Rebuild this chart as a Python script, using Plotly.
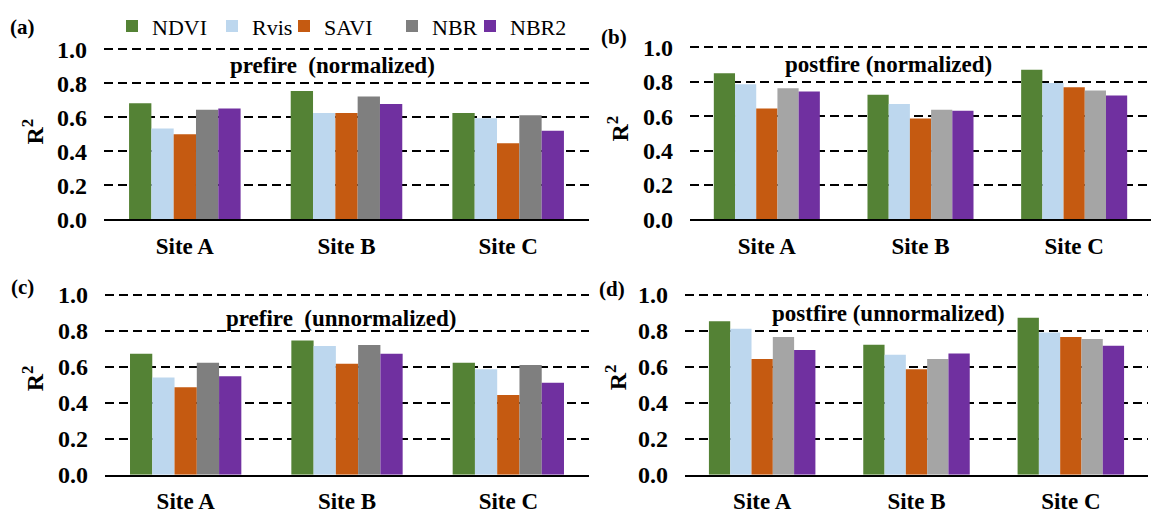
import plotly.graph_objects as go

# Sites and spectral indices
sites = ["Site A", "Site B", "Site C"]
indices = ["NDVI", "Rvis", "SAVI", "NBR", "NBR2"]

# R² per index and site, one dict per panel
prefire_norm = {
    "NDVI": [0.683, 0.755, 0.625],
    "Rvis": [0.534, 0.625, 0.594],
    "SAVI": [0.500, 0.625, 0.448],
    "NBR":  [0.644, 0.723, 0.612],
    "NBR2": [0.652, 0.678, 0.521],
}
postfire_norm = {
    "NDVI": [0.849, 0.725, 0.869],
    "Rvis": [0.786, 0.670, 0.792],
    "SAVI": [0.644, 0.587, 0.768],
    "NBR":  [0.762, 0.637, 0.749],
    "NBR2": [0.744, 0.631, 0.720],
}
prefire_unnorm = {
    "NDVI": [0.673, 0.747, 0.623],
    "Rvis": [0.542, 0.717, 0.588],
    "SAVI": [0.487, 0.618, 0.444],
    "NBR":  [0.623, 0.722, 0.611],
    "NBR2": [0.549, 0.673, 0.512],
}
postfire_unnorm = {
    "NDVI": [0.854, 0.723, 0.874],
    "Rvis": [0.812, 0.668, 0.792],
    "SAVI": [0.645, 0.588, 0.767],
    "NBR":  [0.767, 0.645, 0.755],
    "NBR2": [0.694, 0.675, 0.718],
}

panel_titles = ["prefire  (normalized)", "postfire (normalized)",
                "prefire  (unnormalized)", "postfire (unnormalized)"]
panel_tags = ["(a)", "(b)", "(c)", "(d)"]
y_ticks = [0.0, 0.2, 0.4, 0.6, 0.8, 1.0]

colors_pre = {"NDVI": "#548235", "Rvis": "#BDD7EE", "SAVI": "#C55A11",
              "NBR": "#7F7F7F", "NBR2": "#7030A0"}
colors_post = dict(colors_pre, NBR="#A5A5A5")

W, H = 1152, 529
SERIF = "Liberation Serif, Times New Roman, serif"
Y_TOP = 1.012  # a little headroom so the 1.0 gridline is drawn


def px_x(p):
    return p / W


def px_y(p):
    return 1 - p / H


# plot-area pixel boxes: (left, right, y of 1.0, y of 0.0)
boxes = [
    (104, 589, 41, 219),
    (690, 1151, 39, 219),
    (105, 589, 298, 486),
    (685, 1148, 298, 486),
]

# one single-entry legend per index, laid out along the top row
legend_ids = ["legend", "legend2", "legend3", "legend4", "legend5"]
legend_left = [112, 212, 284, 392, 470]

panels = [prefire_norm, postfire_norm, prefire_unnorm, postfire_unnorm]
palettes = [colors_pre, colors_post, colors_pre, colors_post]

fig = go.Figure()
for i, (data, pal) in enumerate(zip(panels, palettes)):
    xa = "x" if i == 0 else f"x{i + 1}"
    ya = "y" if i == 0 else f"y{i + 1}"
    for k, name in enumerate(indices):
        fig.add_trace(go.Bar(
            x=sites, y=data[name], name=name,
            marker=dict(color=pal[name], line=dict(width=0)),
            xaxis=xa, yaxis=ya,
            showlegend=(i == 0), legendgroup=name,
            legend=legend_ids[k],
        ))

annotations = []
for i, (left, right, top, base) in enumerate(boxes):
    suffix = "" if i == 0 else str(i + 1)
    # extend the top of the domain so that 1.0 stays at the given pixel row
    top_px = top - (Y_TOP - 1.0) * (base - top)
    fig.layout["xaxis" + suffix] = dict(
        domain=[px_x(left), px_x(right)],
        anchor="y" + suffix,
        type="category",
        showline=True, linecolor="black", linewidth=2,
        ticks="", showgrid=False, zeroline=False,
        tickfont=dict(family=SERIF, size=23, color="black", weight="bold"),
        ticklabelstandoff=5,
        fixedrange=True,
    )
    fig.layout["yaxis" + suffix] = dict(
        domain=[px_y(base), px_y(top_px)],
        anchor="x" + suffix,
        range=[0, Y_TOP],
        tickvals=y_ticks, tickformat=".1f",
        showgrid=True, gridcolor="black", gridwidth=2, griddash="9px,5px",
        zeroline=False, showline=False, ticks="",
        tickfont=dict(family=SERIF, size=24, color="black", weight="bold"),
        ticklabelstandoff=16,
        fixedrange=True,
    )

# subplot titles, panel tags and y-axis titles
title_pos = [(332, 58), (888, 57), (341, 323), (888, 317)]
tag_pos = [(22, 18), (614, 28), (22, 290), (612, 292)]
r2_pos = [(33, 127), (618, 124), (33, 385), (616, 384)]
for i in range(4):
    tx, ty = title_pos[i]
    annotations.append(dict(
        x=px_x(tx), y=px_y(ty), xref="paper", yref="paper",
        text=panel_titles[i], showarrow=False,
        font=dict(family=SERIF, size=23, color="black", weight="bold"),
        xanchor="center", yanchor="middle",
    ))
    gx, gy = tag_pos[i]
    annotations.append(dict(
        x=px_x(gx), y=px_y(gy), xref="paper", yref="paper",
        text=panel_tags[i], showarrow=False,
        font=dict(family=SERIF, size=21, color="black", weight="bold"),
        xanchor="center", yanchor="middle",
    ))
    rx, ry = r2_pos[i]
    annotations.append(dict(
        x=px_x(rx), y=px_y(ry), xref="paper", yref="paper",
        text="R<sup>2</sup>", showarrow=False, textangle=-90,
        font=dict(family=SERIF, size=24, color="black", weight="bold"),
        xanchor="center", yanchor="middle",
    ))

layout_legends = {}
for lid, lx in zip(legend_ids, legend_left):
    layout_legends[lid] = dict(
        orientation="h", x=px_x(lx), y=px_y(17),
        xanchor="left", yanchor="middle",
        font=dict(family=SERIF, size=22, color="black"),
        bgcolor="rgba(0,0,0,0)", itemclick=False, itemdoubleclick=False,
    )

fig.update_layout(
    width=W, height=H,
    margin=dict(l=0, r=0, t=0, b=0),
    paper_bgcolor="white", plot_bgcolor="white",
    barmode="group", bargap=0.31, bargroupgap=0,
    showlegend=True,
    annotations=annotations,
    **layout_legends,
)

fig.write_html("out.html")
